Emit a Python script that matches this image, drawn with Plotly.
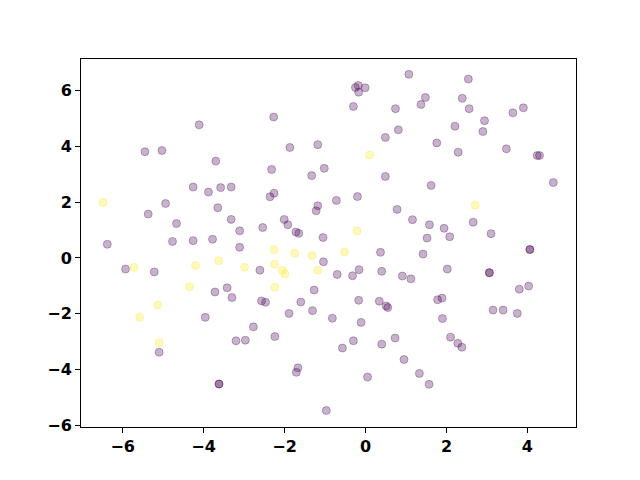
import plotly.graph_objects as go

# class 0 (purple) points
x0 = [-4.11, -5.45, -5.03, -3.70, -4.26, -3.88, -3.58, -3.32, -4.94, -5.37, -3.65, -4.67, -3.32, -3.11,
      -6.38, -4.77, -4.26, -3.78, -3.11,
      1.07, -0.25, -0.18, -0.01, -0.17, -0.30, 0.74, -2.27, 0.81, 0.49, -1.87, -1.18, -2.32, -1.02, -1.33,
      0.49, -2.26, -2.36, -1.18, -1.22, -0.72, -0.20, 0.78, 1.16, -2.54, -2.01, -1.92, -1.72, -1.65, -1.05,
      2.54, 1.48, 1.37, 2.39, 2.56, 3.64, 3.90, 2.94, 2.90, 2.21, 1.76, 2.29, 3.48, 4.24, 4.30, 4.64, 1.62,
      1.58, 2.66, 1.94, 1.52, 2.08, 3.10,
      -5.93, -5.22, -3.72, -3.42, -3.30, -3.96, -5.10, -3.20, -2.97, -3.62, -3.62,
      0.37, -2.61, -1.04, -0.70, -0.32, -0.16, 0.40, 0.91, 1.12, -2.57, -2.47, -1.27, -1.60, -1.89, -1.31,
      -0.82, -0.17, 0.34, 0.51, 0.55, -0.11, -2.77, -2.24, -0.57, -0.30, 0.40, 0.73, 0.95, -1.67, -1.71,
      0.05, -0.97,
      1.42, 2.02, 4.06, 4.06, 3.06, 3.06, 3.80, 4.03, 1.78, 1.89, 1.90, 3.15, 3.40, 3.75, 2.10, 2.28, 2.38,
      1.33, 1.57]
y0 = [4.77, 3.81, 3.85, 3.47, 2.54, 2.36, 2.52, 2.54, 1.95, 1.57, 1.80, 1.23, 1.38, 0.97,
      0.49, 0.59, 0.62, 0.67, 0.38,
      6.58, 6.11, 6.18, 6.10, 5.94, 5.43, 5.35, 5.05, 4.59, 4.32, 3.96, 4.06, 3.17, 3.21, 2.95,
      2.92, 2.32, 2.19, 1.87, 1.69, 2.06, 2.20, 1.74, 1.37, 1.09, 1.38, 1.19, 0.93, 0.88, 0.73,
      6.41, 5.75, 5.50, 5.72, 5.35, 5.20, 5.38, 4.92, 4.53, 4.72, 4.12, 3.79, 3.91, 3.67, 3.67, 2.70, 2.60,
      1.19, 1.28, 1.06, 0.71, 0.76, 0.87,
      -0.40, -0.50, -1.22, -1.07, -1.42, -2.13, -3.38, -2.97, -2.95, -4.52, -4.52,
      0.20, -0.44, -0.14, -0.59, -0.64, -0.42, -0.48, -0.65, -0.75, -1.54, -1.59, -1.15, -1.58, -1.99, -1.89,
      -2.16, -1.52, -1.55, -1.72, -1.78, -2.31, -2.47, -2.82, -3.23, -2.97, -3.09, -2.87, -3.64, -3.94, -4.10,
      -4.27, -5.47,
      0.14, -0.40, 0.30, 0.30, -0.53, -0.53, -1.12, -1.01, -1.50, -1.44, -2.17, -1.87, -1.87, -1.99, -2.84,
      -3.06, -3.20, -4.14, -4.53]

# class 1 (yellow) points
x1 = [-6.49, 0.10, -0.21, 2.71, -5.72, -4.20, -3.63, -2.99, -4.35, -5.13, -5.58, -5.10,
      -2.26, -1.75, -1.32, -0.52, -2.25, -2.06, -1.99, -1.18, -2.24]
y1 = [1.99, 3.69, 0.97, 1.89, -0.34, -0.27, -0.10, -0.33, -1.03, -1.69, -2.13, -3.04,
      0.30, 0.17, 0.09, 0.22, -0.23, -0.44, -0.57, -0.44, -1.05]

purple = "rgba(68,1,84,0.3)"
yellow = "rgba(253,231,37,0.3)"

fig = go.Figure()
fig.add_trace(go.Scatter(x=x0, y=y0, mode="markers",
                         marker=dict(size=8, color=purple, line=dict(color=purple, width=1)),
                         showlegend=False))
fig.add_trace(go.Scatter(x=x1, y=y1, mode="markers",
                         marker=dict(size=8, color=yellow, line=dict(color=yellow, width=1)),
                         showlegend=False))

axis_common = dict(showgrid=False, zeroline=False, showline=True, linecolor="black", linewidth=1,
                   mirror=True, ticks="outside", ticklen=5, tickwidth=1, tickcolor="black",
                   tickfont=dict(family="DejaVu Sans", size=16, color="black", weight="bold"))
fig.update_xaxes(range=[-7.03, 5.20], tickvals=[-6, -4, -2, 0, 2, 4], **axis_common)
fig.update_yaxes(range=[-6.06, 7.13], tickvals=[-6, -4, -2, 0, 2, 4, 6], **axis_common)
fig.update_layout(width=640, height=480, plot_bgcolor="white", paper_bgcolor="white",
                  margin=dict(l=73, r=72, t=51, b=61))
fig.write_html("out.html")
